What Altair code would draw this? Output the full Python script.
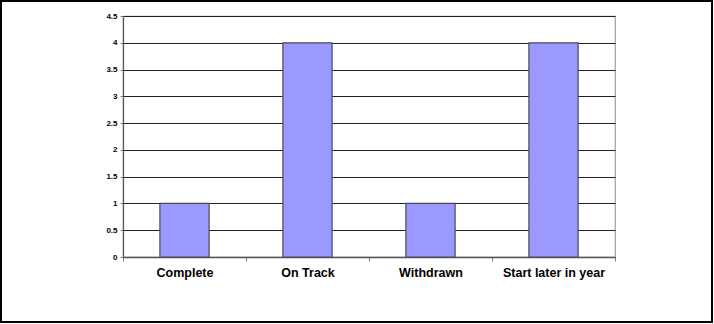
import altair as alt
import pandas as pd

categories = ["Complete", "On Track", "Withdrawn", "Start later in year"]
values = [1, 4, 1, 4]
y_ticks = [0, 0.5, 1, 1.5, 2, 2.5, 3, 3.5, 4, 4.5]

df = pd.DataFrame({"category": categories, "value": values})

W, H = 492, 241
L, T = 123, 16

bars = alt.Chart(df).mark_bar(
    width=alt.RelativeBandSize(0.4),
    color="#9999ff",
    stroke="#4a4a5a",
    strokeWidth=1.2,
).encode(
    x=alt.X("category:N", sort=categories, title=None,
            scale=alt.Scale(paddingInner=0, paddingOuter=0),
            axis=alt.Axis(labelAngle=0, labelFont="Liberation Sans", labelFontWeight="bold",
                          labelFontSize=12.5, labelColor="#000", labelPadding=5,
                          tickBand="extent", tickColor="#808080", tickSize=4,
                          domainColor="#555", domainWidth=1.5, grid=False)),
    y=alt.Y("value:Q", title=None,
            scale=alt.Scale(domain=[0, 4.5], nice=False),
            axis=alt.Axis(values=y_ticks, labelFont="Liberation Sans", labelFontWeight="bold",
                          labelFontSize=8, labelColor="#000", labelPadding=3,
                          tickColor="#808080", tickSize=3,
                          domainColor="#555", domainWidth=1.2,
                          grid=True, gridColor="#222", gridWidth=1,
                          format="")),
)

frame = alt.Chart(df).mark_rect(fill=None, stroke="black", strokeWidth=2).encode(
    x=alt.value(-L + 1), x2=alt.value(714 - L - 2),
    y=alt.value(-T + 1), y2=alt.value(324 - T - 2),
)

chart = alt.layer(bars, frame).properties(
    width=W, height=H,
    autosize=alt.AutoSizeParams(type="none"),
    padding={"left": L, "top": T, "right": 714 - L - W, "bottom": 324 - T - H},
    background="white",
).configure_view(stroke="#a0a0a0", strokeWidth=1.2)

chart.save("out.html", embed_options={"renderer": "svg", "actions": False})
